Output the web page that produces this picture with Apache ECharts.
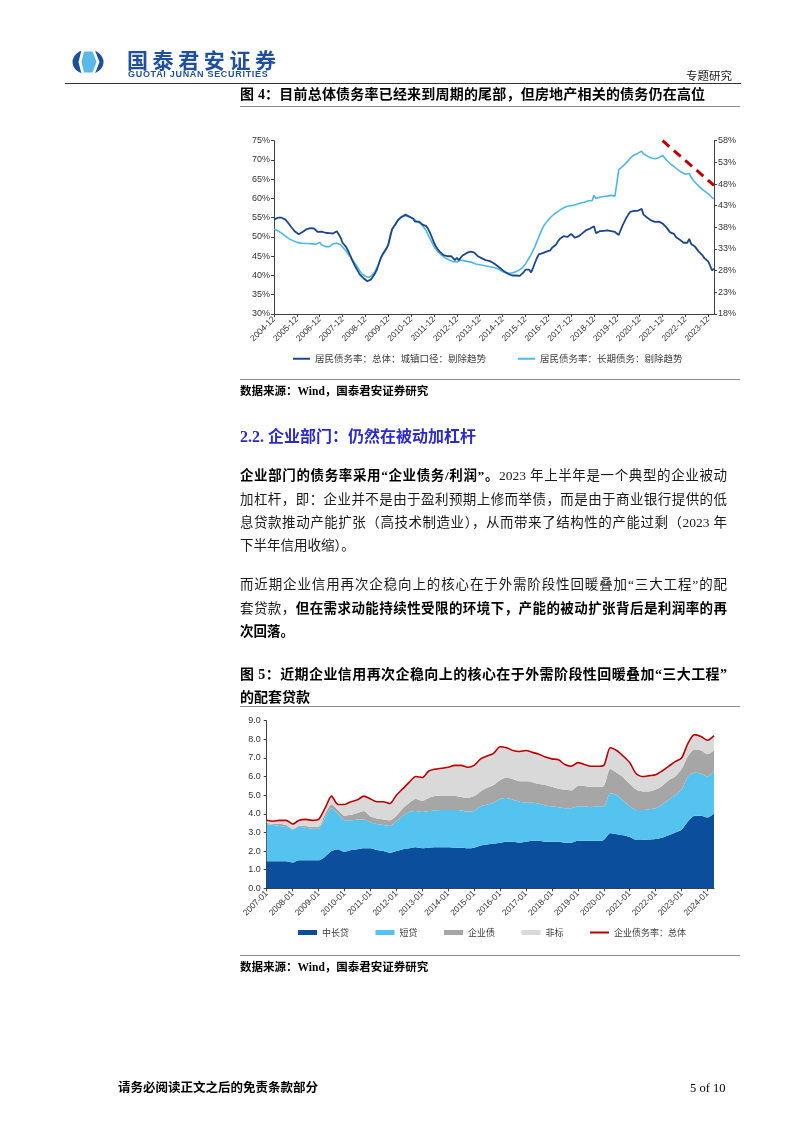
<!DOCTYPE html>
<html><head><meta charset="utf-8">
<script src="https://cdn.jsdelivr.net/npm/echarts@6/dist/echarts.min.js"></script>
<style>
html,body{margin:0;padding:0;background:#fff;width:802px;height:1133px;overflow:hidden;}
#chart{position:absolute;left:0;top:0;width:802px;height:1133px;}
.t{position:absolute;font-family:"Liberation Serif","Noto Sans CJK SC",serif;color:#1a1a1a;white-space:nowrap;z-index:2;}
.j{width:487px;text-align:justify;text-align-last:justify;white-space:nowrap;}
.hr{position:absolute;height:0;border-top:1px solid #8c8c8c;z-index:2;}
b{font-weight:bold;color:#000;}
.p{font-size:13.5px;line-height:20px;}
.ft{font-size:14px;line-height:20px;font-weight:bold;color:#000;}
</style></head>
<body>
<div id="chart"></div>
<svg style="position:absolute;left:72px;top:48px;z-index:2" width="33" height="28" viewBox="72 48 33 28">
<ellipse cx="88" cy="62" rx="15.5" ry="12.5" fill="#1b4f9c"/>
<polygon points="82,48 94,48 99.5,62 94,76 82,76 78.5,62" fill="#ffffff"/>
<polygon points="84,51.5 92.5,51.5 96.5,62 92.5,72.5 84,72.5 81.5,62" fill="#5bb8e8"/>
</svg>
<div class="t" style="left:127px;top:47px;font-family:'Noto Sans CJK SC';font-size:21px;line-height:24px;font-weight:bold;color:#1f4f9e;letter-spacing:4.6px;">国泰君安证券</div>
<div class="t" style="left:128px;top:68px;font-family:'Liberation Sans',Arial;font-size:9px;line-height:12px;font-weight:bold;color:#1f4f9e;letter-spacing:0.7px;">GUOTAI JUNAN SECURITIES</div>
<div class="t" style="left:686px;top:67px;font-family:'Noto Sans CJK SC';font-size:11.5px;line-height:16px;color:#222;">专题研究</div>
<div class="hr" style="left:65px;top:83px;width:676px;border-top:1.3px solid #333;"></div>

<div class="t ft" style="left:240px;top:85px;letter-spacing:0.2px;">图 4：目前总体债务率已经来到周期的尾部，但房地产相关的债务仍在高位</div>
<div class="hr" style="left:240px;top:106px;width:500px;"></div>

<div class="hr" style="left:240px;top:379px;width:500px;"></div>
<div class="t" style="left:240px;top:383px;font-size:11.5px;line-height:16px;font-weight:bold;color:#000;">数据来源：Wind，国泰君安证券研究</div>

<div class="t" style="left:240px;top:426px;font-size:16px;line-height:22px;font-weight:bold;color:#2a2ad0;">2.2. 企业部门：仍然在被动加杠杆</div>

<div class="t p j" style="left:240px;top:466px;"><b>企业部门的债务率采用“企业债务/利润”。</b>2023 年上半年是一个典型的企业被动</div>
<div class="t p j" style="left:240px;top:490px;">加杠杆，即：企业并不是由于盈利预期上修而举债，而是由于商业银行提供的低</div>
<div class="t p j" style="left:240px;top:513px;">息贷款推动产能扩张（高技术制造业），从而带来了结构性的产能过剩（2023 年</div>
<div class="t p" style="left:240px;top:536px;">下半年信用收缩）。</div>

<div class="t p j" style="left:240px;top:575px;">而近期企业信用再次企稳向上的核心在于外需阶段性回暖叠加“三大工程”的配</div>
<div class="t p j" style="left:240px;top:599px;">套贷款，<b>但在需求动能持续性受限的环境下，产能的被动扩张背后是利润率的再</b></div>
<div class="t p" style="left:240px;top:622px;"><b>次回落。</b></div>

<div class="t ft j" style="left:240px;top:665px;">图 5：近期企业信用再次企稳向上的核心在于外需阶段性回暖叠加“三大工程”</div>
<div class="t ft" style="left:240px;top:688px;">的配套贷款</div>
<div class="hr" style="left:240px;top:706px;width:500px;"></div>

<div class="hr" style="left:240px;top:955px;width:500px;"></div>
<div class="t" style="left:240px;top:959px;font-size:11.5px;line-height:16px;font-weight:bold;color:#000;">数据来源：Wind，国泰君安证券研究</div>

<div class="t" style="left:118px;top:1079px;font-size:12.5px;line-height:18px;font-weight:bold;color:#000;">请务必阅读正文之后的免责条款部分</div>
<div class="t" style="left:690px;top:1079px;font-size:12.5px;line-height:18px;color:#000;">5 of 10</div>

<script>
// ---------- Figure 4 data (monthly, 2004-12 .. 2024-03) ----------
const months1 = [];
(function(){ let y=2004, m=12; while(!(y===2024 && m===4)){ months1.push(y+'-'+String(m).padStart(2,'0')); m++; if(m>12){m=1;y++;} } })();

const seriesName1a = '居民债务率：总体：城镇口径：剔除趋势';
const seriesName1b = '居民债务率：长期债务：剔除趋势';

const debtTotalUrban = [54.5,
 54.8,55.0,55.0,55.0,54.8,54.5,54.0,53.3,52.6,52.0,51.4,51.0,
 50.7,50.9,51.3,51.7,52.0,52.2,52.3,52.3,52.2,52.0,51.3,50.8,
 51.4,51.0,51.1,50.9,51.0,51.0,50.9,51.1,51.5,51.0,49.8,48.5,
 48.2,47.3,46.3,45.2,44.0,43.0,42.0,41.2,40.3,39.8,39.3,39.0,
 38.5,38.0,39.0,39.3,40.5,41.5,43.0,44.5,45.5,46.0,47.0,48.0,
 50.0,52.0,52.5,53.5,54.3,54.8,55.2,55.5,55.8,55.6,55.3,55.0,
 54.8,54.0,54.2,54.0,53.8,53.2,53.5,52.8,52.0,51.0,49.8,48.5,
 47.5,46.8,46.2,45.8,45.3,45.2,45.0,44.8,45.0,44.5,44.0,44.6,
 44.0,44.5,45.2,45.5,45.8,46.0,46.2,46.3,46.0,45.5,45.0,45.2,
 44.5,44.0,44.0,43.8,43.8,43.5,43.3,43.0,42.6,42.2,41.8,41.5,
 41.0,40.7,40.4,40.3,40.0,39.9,40.0,39.8,39.9,40.3,40.8,41.5,
 42.0,41.5,40.8,42.0,43.3,44.5,45.5,46.0,45.8,46.3,46.2,46.6,
 46.5,47.2,47.5,48.0,48.8,49.5,50.0,50.2,50.5,50.0,50.5,50.8,
 50.3,49.8,49.9,50.2,50.5,51.0,51.5,51.8,52.0,52.2,52.0,52.8,
 51.0,51.5,51.5,51.8,51.6,51.9,51.7,51.8,51.5,51.7,51.3,51.8,
 50.5,51.8,53.0,54.0,55.0,55.8,56.5,56.5,56.8,56.6,56.8,56.8,
 57.3,55.8,55.5,55.0,54.5,54.3,54.0,53.9,54.2,54.0,54.1,53.5,
 53.0,52.5,52.0,51.2,51.5,50.8,50.0,49.5,49.3,48.8,48.5,48.0,
 48.5,49.5,48.2,48.0,47.5,47.0,46.2,45.8,45.2,44.5,44.0,43.6,
 42.5,41.3,41.8];

const debtLongTerm = [52.0,
 51.8,51.6,51.3,51.0,50.6,50.2,49.8,49.5,49.2,49.0,48.8,48.6,
 48.5,48.4,48.3,48.3,48.4,48.3,48.3,48.2,48.2,48.1,48.0,48.6,
 48.0,47.8,47.5,47.3,47.5,47.8,48.2,48.5,48.4,48.2,48.0,47.5,
 46.8,46.2,45.5,45.0,44.3,43.5,42.8,42.0,41.2,40.5,40.0,39.8,
 39.7,39.5,39.8,40.3,41.0,42.0,43.0,44.3,45.3,46.0,47.0,48.0,
 50.5,52.0,52.3,53.5,54.5,55.0,55.3,55.5,55.5,55.4,55.2,55.0,
 54.8,54.3,54.0,53.8,53.5,53.0,52.3,51.5,50.5,49.5,48.5,47.5,
 46.8,46.2,45.8,45.3,44.8,44.5,44.2,44.0,43.8,43.6,43.4,43.5,
 43.6,44.0,44.0,43.8,43.7,43.6,43.5,43.4,43.2,43.0,42.9,42.8,
 42.7,42.6,42.5,42.4,42.3,42.2,42.1,42.0,41.8,41.6,41.3,41.0,
 40.8,40.7,40.6,40.6,40.7,40.8,41.0,41.2,41.5,41.8,42.3,43.0,
 43.8,44.6,45.5,46.5,47.5,48.8,50.0,51.2,52.3,53.2,53.8,54.4,
 55.0,55.5,55.9,56.3,56.6,57.0,57.3,57.6,57.8,58.0,58.1,58.3,
 58.2,58.3,58.5,58.6,58.8,59.0,59.0,59.2,59.4,59.5,59.4,60.8,
 60.0,60.2,60.3,60.4,60.5,60.6,60.6,60.7,60.8,60.7,60.6,60.6,
 67.5,67.8,68.3,68.8,69.3,69.8,70.4,70.9,71.3,71.6,71.7,71.8,
 72.3,71.6,71.3,71.0,70.8,70.5,70.4,70.3,70.4,70.6,70.8,71.2,
 70.8,70.0,69.5,69.0,68.8,68.3,67.8,67.5,67.2,66.8,66.5,66.3,
 66.0,66.5,65.5,64.8,64.2,63.7,63.2,62.7,62.3,62.0,61.6,61.2,
 60.8,60.2,60.0];

// right-axis tick labels (offset from 18%)
const rightAxisBase = 18;

// ---------- Figure 5 data (quarterly, 2007-01 .. 2024-04) ----------
const quarters2 = [];
(function(){ for(let y=2007;y<=2024;y++){ for(const m of [1,4,7,10]){ if(y===2024 && m>4) break; quarters2.push(y+'-'+String(m).padStart(2,'0')); } } })();

const midLongLoan = [1.45,1.45,1.45,1.45, 1.38,1.5,1.5,1.5, 1.5,1.7,2.0,2.1, 1.95,2.05,2.1,2.15,
 2.15,2.05,2.0,1.9, 2.0,2.1,2.15,2.2, 2.15,2.18,2.2,2.2, 2.2,2.18,2.18,2.15, 2.18,2.3,2.35,2.4,
 2.45,2.5,2.5,2.45, 2.5,2.55,2.55,2.5, 2.5,2.5,2.45,2.45, 2.55,2.55,2.55,2.55, 2.6,2.95,2.9,2.85,
 2.75,2.6,2.6,2.62, 2.65,2.72,2.85,3.0, 3.15,3.6,3.9,3.9, 3.8,4.0];
const shortLoan = [2.0,1.95,1.9,1.85, 1.77,1.8,1.75,1.7, 1.7,2.1,2.3,1.9, 1.7,1.6,1.6,1.55,
 1.4,1.4,1.4,1.45, 1.6,1.8,1.95,1.95, 1.95,1.97,1.98,2.0, 2.0,2.02,2.0,1.97, 1.97,2.1,2.15,2.2,
 2.35,2.35,2.25,2.2, 2.1,2.05,2.0,1.95, 1.9,1.85,1.85,1.85, 1.85,1.85,1.8,1.85, 1.8,2.15,2.1,1.85,
 1.65,1.6,1.6,1.63, 1.65,1.78,1.9,2.0, 2.15,2.4,2.3,2.25, 2.2,2.3];
const corpBond = [0.05,0.05,0.1,0.1, 0.05,0.05,0.1,0.1, 0.1,0.2,0.2,0.2, 0.25,0.3,0.35,0.45,
 0.3,0.3,0.3,0.3, 0.3,0.4,0.5,0.65, 0.6,0.7,0.77,0.75, 0.75,0.75,0.72,0.73, 0.8,0.8,0.9,0.95,
 1.0,1.1,1.1,1.1, 1.15,1.1,1.05,1.1, 1.05,1.0,1.0,0.95, 1.1,1.1,1.1,1.05, 1.1,1.3,1.2,1.25,
 1.2,1.1,1.0,0.95, 1.0,1.0,1.05,1.0, 1.1,1.1,1.25,1.25, 1.2,1.1];
const nonStandard = [0.15,0.15,0.2,0.25, 0.25,0.3,0.35,0.35, 0.4,0.3,0.45,0.3, 0.6,0.7,0.7,0.8,
 0.95,0.9,0.95,0.9, 1.1,1.05,1.1,1.2, 1.25,1.45,1.45,1.5, 1.55,1.65,1.7,1.65, 1.65,1.75,1.7,1.7,
 1.8,1.6,1.55,1.6, 1.65,1.6,1.6,1.5, 1.5,1.55,1.35,1.3, 1.25,1.15,1.1,1.1, 1.1,1.15,1.2,1.15,
 1.15,0.85,0.8,0.85, 0.8,0.8,0.75,0.8, 0.6,0.7,0.8,0.75, 0.75,0.8];
const corpDebtRatio = [3.65,3.6,3.65,3.65, 3.45,3.65,3.7,3.65, 3.7,4.3,4.95,4.5, 4.5,4.65,4.75,4.95,
 4.8,4.65,4.65,4.55, 5.0,5.35,5.7,6.0, 5.95,6.3,6.4,6.45, 6.5,6.6,6.6,6.5, 6.6,6.95,7.1,7.25,
 7.6,7.55,7.4,7.35, 7.4,7.3,7.2,7.05, 6.95,6.9,6.65,6.55, 6.75,6.65,6.55,6.55, 6.6,7.55,7.4,7.1,
 6.75,6.15,6.0,6.05, 6.1,6.3,6.55,6.8, 7.0,7.8,8.25,8.15, 7.95,8.2];

const areaNames = ['中长贷','短贷','企业债','非标'];
const lineName2 = '企业债务率：总体';

// ---------- chart ----------
const C = {navy:'#1b478c', sky:'#4bb8e8', dblue:'#0b4f9c', lblue:'#55c3f0', gray:'#a6a6a6', lgray:'#d9d9d9', red:'#c00000', axis:'#404040'};
const lblFont = {fontFamily:'Liberation Sans, Arial', fontSize:9, color:'#333'};
const legFont = {fontFamily:'Noto Sans CJK SC', fontSize:9, color:'#404040'};
const chart = echarts.init(document.getElementById('chart'), null, {renderer:'canvas'});

function area(name, data, color){
  return {name, type:'line', xAxisIndex:1, yAxisIndex:2, stack:'t', data, symbol:'none', smooth:0.25,
    color, itemStyle:{color}, lineStyle:{width:0, color}, areaStyle:{color, opacity:1}};
}

chart.setOption({
  animation:false,
  grid:[{left:274, top:140.7, width:440, height:173.3},
        {left:266.7, top:720.7, width:447.3, height:167.6}],
  legend:[
    {left:288, top:349, itemWidth:17, itemHeight:2, itemGap:32, icon:'rect', selectedMode:false,
     textStyle:Object.assign({}, legFont, {fontSize:9.5}), data:[seriesName1a, seriesName1b]},
    {left:293, top:923, itemWidth:19, itemHeight:5, itemGap:26.5, icon:'rect', selectedMode:false,
     textStyle:legFont, data:areaNames},
    {left:585, top:923, itemWidth:19, itemHeight:2, icon:'rect', selectedMode:false,
     textStyle:legFont, data:[lineName2]}
  ],
  xAxis:[
    {gridIndex:0, type:'category', data:months1, boundaryGap:false,
     axisLine:{lineStyle:{color:C.axis, width:1}},
     axisTick:{interval:11, length:3, lineStyle:{color:C.axis}},
     axisLabel:{interval:11, rotate:45, margin:4, fontSize:8.5, fontFamily:'Liberation Sans, Arial', color:'#333'}},
    {gridIndex:1, type:'category', data:quarters2, boundaryGap:false,
     axisLine:{lineStyle:{color:C.axis, width:1}},
     axisTick:{interval:3, length:3, lineStyle:{color:C.axis}},
     axisLabel:{interval:3, rotate:45, margin:4, fontSize:8.5, fontFamily:'Liberation Sans, Arial', color:'#333'}}
  ],
  yAxis:[
    {gridIndex:0, type:'value', min:30, max:75, interval:5, splitLine:{show:false},
     axisLine:{show:true, lineStyle:{color:C.axis}}, axisTick:{show:true, length:3, lineStyle:{color:C.axis}},
     axisLabel:Object.assign({margin:4, formatter:'{value}%'}, lblFont)},
    {gridIndex:0, type:'value', position:'right', min:0, max:40, interval:5, splitLine:{show:false},
     axisLine:{show:true, lineStyle:{color:C.axis}}, axisTick:{show:true, length:3, lineStyle:{color:C.axis}},
     axisLabel:Object.assign({margin:4, formatter:v => (v + rightAxisBase) + '%'}, lblFont)},
    {gridIndex:1, type:'value', min:0, max:9, interval:1, splitLine:{show:false},
     axisLine:{show:true, lineStyle:{color:C.axis}}, axisTick:{show:true, length:3, lineStyle:{color:C.axis}},
     axisLabel:Object.assign({margin:6, formatter:v => v.toFixed(1)}, lblFont)}
  ],
  series:[
    {name:seriesName1a, type:'line', xAxisIndex:0, yAxisIndex:0, data:debtTotalUrban, symbol:'none',
     color:C.navy, itemStyle:{color:C.navy}, lineStyle:{width:1.8, color:C.navy}, z:3},
    {name:seriesName1b, type:'line', xAxisIndex:0, yAxisIndex:0, data:debtLongTerm, symbol:'none',
     color:C.sky, itemStyle:{color:C.sky}, lineStyle:{width:1.6, color:C.sky}, z:2,
     markLine:{silent:true, symbol:['none','arrow'], symbolSize:[0,11], label:{show:false},
       lineStyle:{color:'#c00000', type:[9,6], width:3},
       data:[[{coord:['2021-12', 75]}, {coord:['2024-03', 63.4]}]]}},
    area(areaNames[0], midLongLoan, C.dblue),
    area(areaNames[1], shortLoan, C.lblue),
    area(areaNames[2], corpBond, C.gray),
    area(areaNames[3], nonStandard, C.lgray),
    {name:lineName2, type:'line', xAxisIndex:1, yAxisIndex:2, data:corpDebtRatio, symbol:'none', smooth:0.25,
     color:C.red, itemStyle:{color:C.red}, lineStyle:{width:1.6, color:C.red}, z:5}
  ]
});
</script>
</body></html>
